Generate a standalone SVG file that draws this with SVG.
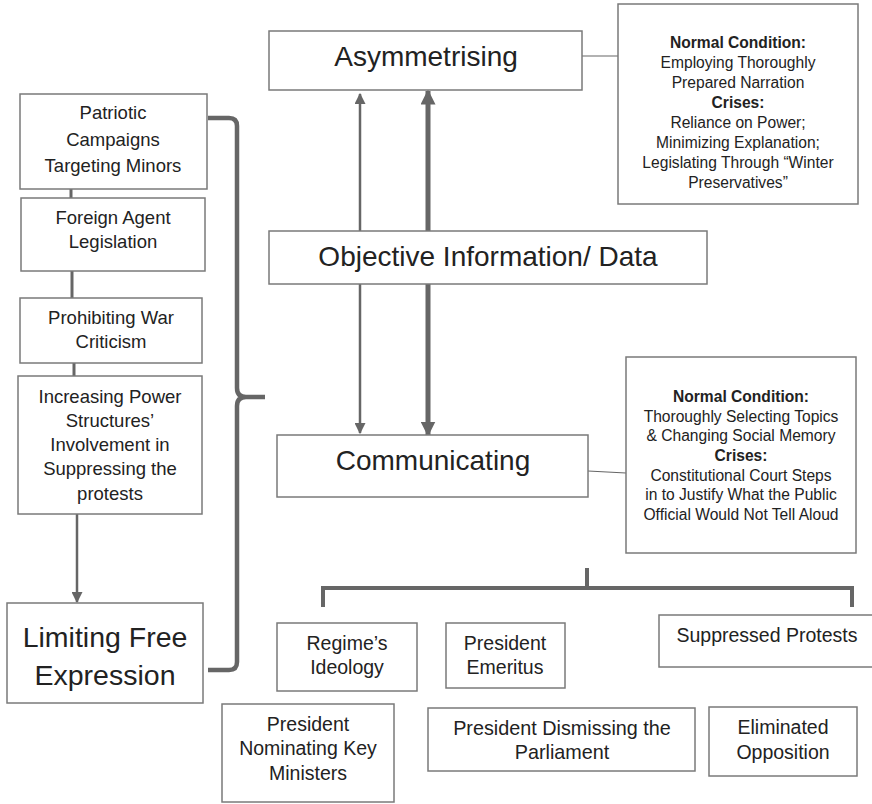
<svg xmlns="http://www.w3.org/2000/svg" width="872" height="804" viewBox="0 0 872 804">
<defs>
<style>
.box{fill:#fff;stroke:#7a7a7a;stroke-width:1.5}
.t{font-family:"Liberation Sans",Arial,sans-serif;fill:#222;text-anchor:middle}
.s18{font-size:18.5px}
.s19{font-size:19.5px}
.s15{font-size:15.6px}
.big{font-size:28px}
.b{font-weight:bold}
.ln{stroke:#666;fill:none}
</style>
<marker id="ah" viewBox="0 0 10 10" refX="9" refY="5" markerWidth="4.4" markerHeight="4.4" orient="auto" markerUnits="strokeWidth"><path d="M0,0 L10,5 L0,10 z" fill="#666"/></marker>
<marker id="ahT" viewBox="0 0 10 10" refX="9" refY="5" markerWidth="3" markerHeight="3" orient="auto" markerUnits="strokeWidth"><path d="M0,0 L10,5 L0,10 z" fill="#666"/></marker>
</defs>
<rect width="872" height="804" fill="#fff"/>

<g id="connectors">
<line class="ln" x1="71" y1="189" x2="71" y2="198" stroke-width="3"/>
<line class="ln" x1="72" y1="271" x2="72" y2="298" stroke-width="3"/>
<line class="ln" x1="74" y1="363" x2="74" y2="376" stroke-width="3"/>
<line class="ln" x1="77" y1="514" x2="77" y2="602" stroke-width="2.5" marker-end="url(#ah)"/>
<path class="ln" stroke-width="4.5" d="M208,118 H229 Q237,118 237,126 V388 Q237,397 246,397 H265 M246,397 Q237,397 237,406 V662 Q237,670 229,670 H208"/>
<line class="ln" x1="360" y1="231" x2="360" y2="94" stroke-width="2.5" marker-end="url(#ah)"/>
<line class="ln" x1="360" y1="284" x2="360" y2="433" stroke-width="2.5" marker-end="url(#ah)"/>
<line class="ln" x1="428" y1="231" x2="428" y2="91" stroke-width="5" marker-end="url(#ahT)"/>
<line class="ln" x1="428" y1="284" x2="428" y2="435" stroke-width="5" marker-end="url(#ahT)"/>
<line class="ln" x1="582" y1="56" x2="618" y2="56" stroke-width="1.2"/>
<line class="ln" x1="588" y1="471" x2="626" y2="473" stroke-width="1.2"/>
<path class="ln" stroke-width="4" d="M587,568 V588 M323,607 V588 H852 V607"/>
</g>

<g id="patriotic">
<rect class="box" x="20" y="94" width="187" height="95"/>
<text class="t s18" x="113" y="119">Patriotic</text>
<text class="t s18" x="113" y="146">Campaigns</text>
<text class="t s18" x="113" y="172">Targeting Minors</text>
</g>
<g id="foreign">
<rect class="box" x="21" y="198" width="184" height="73"/>
<text class="t s18" x="113" y="224">Foreign Agent</text>
<text class="t s18" x="113" y="248">Legislation</text>
</g>
<g id="prohibiting">
<rect class="box" x="20" y="298" width="182" height="65"/>
<text class="t s18" x="111" y="324">Prohibiting War</text>
<text class="t s18" x="111" y="348">Criticism</text>
</g>
<g id="increasing">
<rect class="box" x="18" y="376" width="184" height="138"/>
<text class="t s18" x="110" y="403">Increasing Power</text>
<text class="t s18" x="110" y="427">Structures’</text>
<text class="t s18" x="110" y="451">Involvement in</text>
<text class="t s18" x="110" y="475">Suppressing the</text>
<text class="t s18" x="110" y="500">protests</text>
</g>
<g id="limiting">
<rect class="box" x="7" y="603" width="196" height="100"/>
<text class="t" font-size="28.5" x="105" y="647">Limiting Free</text>
<text class="t" font-size="28.5" x="105" y="685">Expression</text>
</g>

<g id="asymmetrising">
<rect class="box" x="269" y="31" width="313" height="59"/>
<text class="t big" x="426" y="66">Asymmetrising</text>
</g>
<g id="objective">
<rect class="box" x="269" y="231" width="438" height="53"/>
<text class="t big" x="488" y="266">Objective Information/ Data</text>
</g>
<g id="communicating">
<rect class="box" x="277" y="435" width="311" height="62"/>
<text class="t big" x="433" y="470">Communicating</text>
</g>

<g id="asym-note">
<rect class="box" x="618" y="4" width="240" height="200"/>
<text class="t s15 b" x="738" y="48">Normal Condition:</text>
<text class="t s15" x="738" y="68">Employing Thoroughly</text>
<text class="t s15" x="738" y="88">Prepared Narration</text>
<text class="t s15 b" x="738" y="108">Crises:</text>
<text class="t s15" x="738" y="128">Reliance on Power;</text>
<text class="t s15" x="738" y="148">Minimizing Explanation;</text>
<text class="t s15" x="738" y="168">Legislating Through “Winter</text>
<text class="t s15" x="738" y="188">Preservatives”</text>
</g>
<g id="comm-note">
<rect class="box" x="626" y="357" width="230" height="196"/>
<text class="t s15 b" x="741" y="402">Normal Condition:</text>
<text class="t s15" x="741" y="422">Thoroughly Selecting Topics</text>
<text class="t s15" x="741" y="441">&amp; Changing Social Memory</text>
<text class="t s15 b" x="741" y="461">Crises:</text>
<text class="t s15" x="741" y="481">Constitutional Court Steps</text>
<text class="t s15" x="741" y="500">in to Justify What the Public</text>
<text class="t s15" x="741" y="520">Official Would Not Tell Aloud</text>
</g>

<g id="regime">
<rect class="box" x="277" y="623" width="140" height="68"/>
<text class="t s19" x="347" y="650">Regime’s</text>
<text class="t s19" x="347" y="674">Ideology</text>
</g>
<g id="emeritus">
<rect class="box" x="446" y="623" width="119" height="65"/>
<text class="t s19" x="505" y="650">President</text>
<text class="t s19" x="505" y="674">Emeritus</text>
</g>
<g id="suppressed">
<rect class="box" x="659" y="615" width="214" height="52"/>
<text class="t s19" x="767" y="642">Suppressed Protests</text>
</g>
<g id="nominating">
<rect class="box" x="222" y="704" width="172" height="98"/>
<text class="t s19" x="308" y="731">President</text>
<text class="t s19" x="308" y="755">Nominating Key</text>
<text class="t s19" x="308" y="780">Ministers</text>
</g>
<g id="dismissing">
<rect class="box" x="428" y="708" width="267" height="63"/>
<text class="t" font-size="19.8" x="562" y="735">President Dismissing the</text>
<text class="t" font-size="19.8" x="562" y="759">Parliament</text>
</g>
<g id="eliminated">
<rect class="box" x="709" y="707" width="148" height="69"/>
<text class="t s19" x="783" y="734">Eliminated</text>
<text class="t s19" x="783" y="759">Opposition</text>
</g>
</svg>
